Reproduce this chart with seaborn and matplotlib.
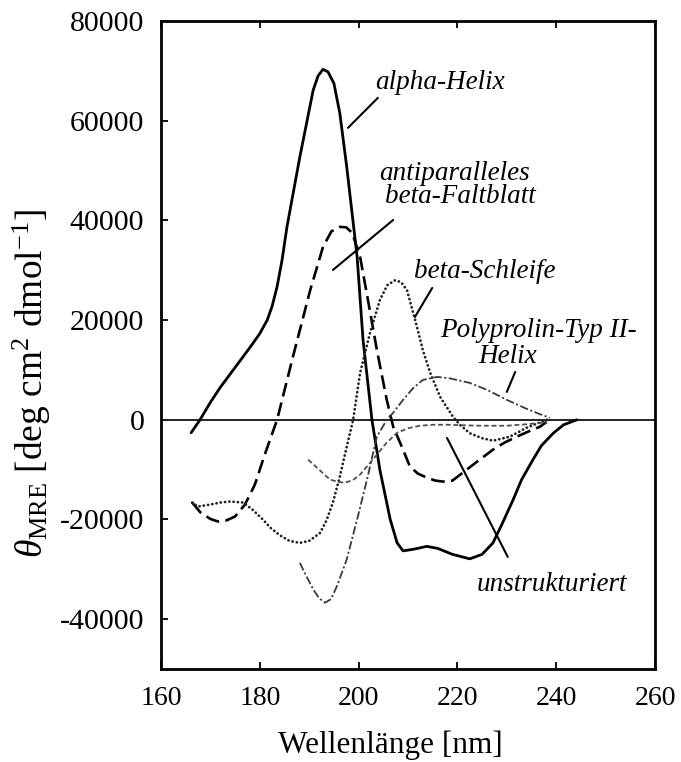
import matplotlib
matplotlib.use("Agg")
import matplotlib.pyplot as plt
import seaborn as sns
import pandas as pd

# ---- data ----
alpha_x = [166.1, 167.9, 170.0, 172.0, 175.0, 178.0, 180.0, 181.5, 182.5, 183.5, 184.5, 185.5,
           188.1, 190.8, 191.8, 192.8, 193.8, 195.0, 196.2, 197.6, 199.7, 200.9, 202.7, 204.3,
           206.4, 207.8, 209.0, 211.0, 213.8, 216.0, 219.0, 222.5, 225.0, 227.2, 229.0, 231.3,
           233.0, 235.3, 237.0, 239.4, 241.5, 244.2]
alpha_y = [-2600, 0, 3500, 6500, 10500, 14500, 17300, 20000, 22800, 26700, 32000, 38700,
           52700, 66100, 69000, 70300, 69800, 67500, 61500, 50700, 32700, 16000, 0, -10000,
           -20000, -24700, -26300, -26000, -25400, -25800, -27000, -27900, -27000, -24700, -21000, -16000,
           -12000, -8000, -5200, -2700, -1000, 0]

sheet_x = [166.3, 168.0, 170.0, 171.5, 173.0, 175.0, 177.0, 179.0, 181.0, 183.5, 186.7, 190.2,
           192.8, 194.5, 196.2, 197.5, 198.7, 200.3, 201.9, 203.7, 205.7, 207.0, 208.4, 210.4,
           212.0, 213.8, 215.5, 217.1, 219.0, 221.9, 224.5, 227.2, 229.5, 232.0, 234.5, 236.7, 238.1]
sheet_y = [-16600, -18600, -19900, -20400, -20300, -19400, -17000, -13000, -7000, 0, 12600, 26000,
           34700, 37800, 38700, 38600, 37500, 32700, 24000, 14000, 4000, -1400, -4600, -9400,
           -10800, -11600, -12200, -12400, -12200, -10000, -8000, -6000, -4600, -3400, -2300, -1400, -400]

turn_x = [166.3, 167.5, 170.0, 172.0, 174.0, 176.6, 178.5, 180.6, 182.3, 184.1, 186.0, 188.1,
          190.0, 192.2, 193.5, 194.8, 196.2, 197.6, 198.9, 200.3, 202.3, 204.3, 205.8, 207.4,
          208.6, 209.8, 211.8, 213.0, 214.5, 216.5, 219.1, 220.5, 222.5, 225.0, 227.2, 230.6,
          234.0, 236.0, 238.1]
turn_y = [-16600, -17400, -17000, -16600, -16400, -16600, -18000, -20000, -21800, -23200, -24300, -24700,
          -24300, -22700, -20200, -16600, -11400, -5400, 0, 9400, 17400, 24000, 27000, 28000,
          27600, 26000, 18700, 14000, 9400, 4600, 600, -1000, -2700, -3700, -4200, -3400,
          -1600, -800, 0]

ppii_x = [188.1, 189.5, 190.8, 192.0, 193.2, 194.4, 195.6, 197.6, 199.7, 201.7, 203.7, 205.7,
          207.0, 209.0, 211.0, 213.0, 215.9, 218.5, 222.5, 226.0, 230.0, 234.0, 236.5, 238.7]
ppii_y = [-28700, -31500, -34000, -35800, -36700, -36000, -33400, -28000, -20000, -12000, -3400, 0,
          1400, 4000, 6300, 8000, 8600, 8300, 7400, 6000, 4000, 2200, 1200, 400]

coil_x = [189.8, 192.0, 194.2, 196.0, 197.2, 198.7, 200.3, 202.0, 203.7, 205.5, 207.8, 210.0,
          212.4, 215.0, 218.0, 221.0, 225.0, 230.0, 234.0, 238.1]
coil_y = [-8000, -10000, -12000, -12500, -12600, -12200, -11000, -9000, -7000, -4800, -2600, -1700,
          -1200, -1000, -1000, -1100, -1200, -1200, -900, -500]

x_ticks = [160, 180, 200, 220, 240, 260]
y_ticks = [-40000, -20000, 0, 20000, 40000, 60000, 80000]

labels = {
    "alpha": "alpha-Helix",
    "sheet1": "antiparalleles",
    "sheet2": "beta-Faltblatt",
    "turn": "beta-Schleife",
    "ppii1": "Polyprolin-Typ II-",
    "ppii2": "Helix",
    "coil": "unstrukturiert",
}

# ---- style ----
sns.set_theme(style="ticks")
plt.rcParams["font.family"] = ["Liberation Serif", "DejaVu Serif"]
plt.rcParams["mathtext.fontset"] = "custom"
plt.rcParams["mathtext.rm"] = "Liberation Serif"
plt.rcParams["mathtext.it"] = "Liberation Serif:italic"
plt.rcParams["axes.unicode_minus"] = False
plt.rcParams["lines.scale_dashes"] = False
plt.rcParams["text.color"] = "black"
plt.rcParams["axes.labelcolor"] = "black"
plt.rcParams["xtick.color"] = "black"
plt.rcParams["ytick.color"] = "black"

fig = plt.figure(figsize=(6.81, 7.62), dpi=100)
ax = fig.add_axes([161 / 681, 1 - 669 / 762, 494 / 681, 648 / 762])

def draw(xs, ys, **kw):
    df = pd.DataFrame({"x": xs, "y": ys})
    sns.lineplot(data=df, x="x", y="y", ax=ax, sort=False, estimator=None, errorbar=None, **kw)

draw(alpha_x, alpha_y, color="black", linewidth=2.0)
draw(sheet_x, sheet_y, color="black", linewidth=1.9, linestyle=(0, (10, 4.5)))
draw(turn_x, turn_y, color="#222222", linewidth=2.0, linestyle=(0, (0.1, 3.0)), dash_capstyle="round")
draw(ppii_x, ppii_y, color="#3a3a3a", linewidth=1.3, linestyle=(0, (6, 1.8, 1.5, 1.8)))
draw(coil_x, coil_y, color="#505050", linewidth=1.3, linestyle=(0, (3.5, 2.0)))

ax.axhline(0, color="#222222", linewidth=1.4, zorder=1)

ax.set_xlim(160, 260)
ax.set_ylim(-50000, 80000)
ax.set_xticks(x_ticks)
ax.set_yticks(y_ticks)
ax.set_xticklabels([str(v) for v in x_ticks])
ax.set_yticklabels([str(v) for v in y_ticks])
ax.tick_params(direction="in", length=5, width=1.3, colors="black", labelcolor="black")
ax.tick_params(axis="x", pad=12, top=True, labelsize=20)
ax.tick_params(axis="y", pad=12, labelsize=21.5)
for s in ax.spines.values():
    s.set_linewidth(2.0)
    s.set_color("black")
    s.set_visible(True)

ax.set_xlabel("Wellenlänge [nm]", fontsize=22.5, color="black")
ax.xaxis.label.set_va("center")
ax.xaxis.set_label_coords(0.4636, -0.117)
ax.set_ylabel(r"$\theta_{\mathrm{MRE}}$ [deg cm$^{2}$ dmol$^{\mathrm{-1}}$]", fontsize=27, color="black")
ax.yaxis.label.set_va("center")
ax.yaxis.set_label_coords(-0.262, 0.441)

tk = dict(fontsize=19.5, style="italic", ha="center", va="baseline", color="black")
ax.text(216.5, 66400, labels["alpha"], **tk)
ax.text(219.4, 48100, labels["sheet1"], **tk)
ax.text(220.6, 43500, labels["sheet2"], **tk)
ax.text(225.6, 28450, labels["turn"], **tk)
ax.text(236.4, 16600, labels["ppii1"], **tk)
ax.text(230.1, 11400, labels["ppii2"], **tk)
ax.text(239.1, -34300, labels["coil"], **tk)

lk = dict(color="black", linewidth=1.5)
ax.plot([197.85, 203.9], [58560, 64580], **lk)
ax.plot([194.8, 207.0], [30050, 40080], **lk)
ax.plot([214.9, 211.4], [26440, 20620], **lk)
ax.plot([231.7, 230.0], [9590, 5580], **lk)
ax.plot([217.9, 230.2], [-3650, -27520], **lk)

fig.savefig("out.png", dpi=100)
